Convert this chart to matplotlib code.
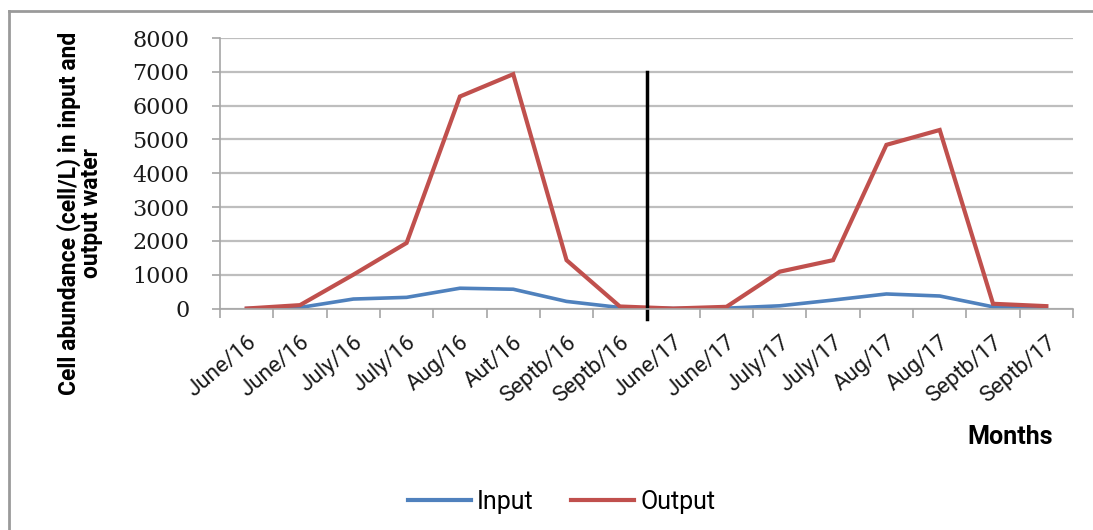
import matplotlib
matplotlib.use('Agg')
import matplotlib.pyplot as plt
from matplotlib.lines import Line2D

months = ['June/16', 'June/16', 'July/16', 'July/16', 'Aug/16', 'Aut/16', 'Septb/16', 'Septb/16',
          'June/17', 'June/17', 'July/17', 'July/17', 'Aug/17', 'Aug/17', 'Septb/17', 'Septb/17']
input_cells = [0, 30, 280, 330, 600, 570, 210, 30, 0, 10, 80, 250, 430, 370, 50, 20]
output_cells = [0, 100, 1000, 1940, 6270, 6930, 1430, 60, 0, 50, 1090, 1430, 4840, 5280, 140, 70]
season_split = 7.5  # boundary between the 2016 and 2017 campaigns

blue = '#4F81BD'
red = '#C0504D'
grid_gray = '#BEBEBE'
sans = 'Roboto'

fig = plt.figure(figsize=(10.93, 5.30), dpi=100)
ax = fig.add_axes([0.2013, 0.4179, 0.7804, 0.5104])

xs = list(range(len(months)))
ax.plot(xs, input_cells, color=blue, lw=2.6, solid_joinstyle='miter', label='Input')
ax.plot(xs, output_cells, color=red, lw=3.0, solid_joinstyle='miter', label='Output')
ax.plot([season_split, season_split], [-300, 7000], color='black', lw=2.5, clip_on=False)

ax.set_xlim(-0.5, len(months) - 0.5)
ax.set_ylim(0, 8000)
ax.set_yticks(range(0, 8001, 1000))
ax.yaxis.grid(True, color=grid_gray, lw=1.6)
ax.set_axisbelow(True)
for side in ('top', 'right'):
    ax.spines[side].set_visible(False)
for side in ('left', 'bottom'):
    ax.spines[side].set_color('#A6A6A6')
    ax.spines[side].set_linewidth(1.2)

# tick marks sit between categories, labels at the category centres
ax.set_xticks([i - 0.5 for i in range(len(months) + 1)])
ax.set_xticklabels([])
ax.tick_params(axis='x', which='major', length=6.5, width=1.2, color='#A6A6A6')
ax.set_xticks(xs, minor=True)
ax.set_xticklabels(months, minor=True, rotation=40, ha='right', rotation_mode='anchor',
                   fontsize=16, family=sans, color='#1A1A1A')
ax.tick_params(axis='x', which='minor', length=0, pad=17)
ax.tick_params(axis='y', length=6, width=1.2, color='#A6A6A6', pad=16)
for lbl in ax.get_yticklabels():
    lbl.set_family('DejaVu Serif')
    lbl.set_fontsize(16)
    lbl.set_color('#1A1A1A')

fig.text(0.073, 0.598, 'Cell abundance (cell/L) in input and\noutput water', rotation=90,
         ha='center', va='center', multialignment='center', fontsize=16.5, fontweight='bold',
         family=sans, linespacing=0.95)
fig.text(0.963, 0.175, 'Months', ha='right', va='center', fontsize=18, fontweight='bold', family=sans)

handles = [Line2D([], [], color=blue, lw=3), Line2D([], [], color=red, lw=3)]
fig.legend(handles, ['Input', 'Output'], loc='center', bbox_to_anchor=(0.514, 0.053), ncol=2,
           frameon=False, handlelength=2.5, handletextpad=0.25, columnspacing=1.5,
           prop={'family': sans, 'size': 18})

# outer frame (only the top and left edges are visible)
fig.add_artist(Line2D([0.0085, 1.0], [0.980, 0.980], color='#9A9A9A', lw=2, transform=fig.transFigure))
fig.add_artist(Line2D([0.0085, 0.0085], [0.0, 0.980], color='#9A9A9A', lw=2, transform=fig.transFigure))

fig.savefig('out.png', dpi=100)
